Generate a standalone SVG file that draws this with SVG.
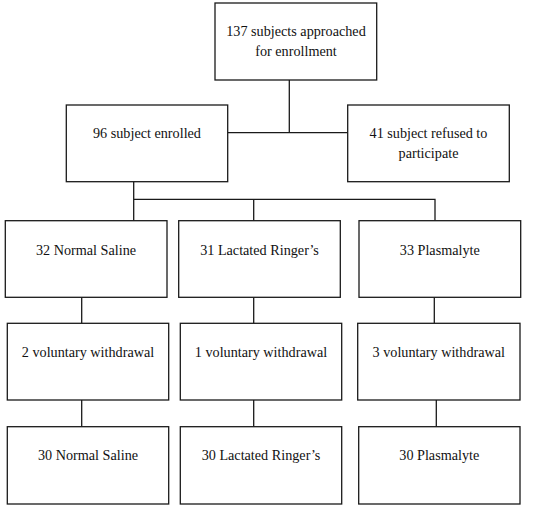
<svg xmlns="http://www.w3.org/2000/svg" width="541" height="509" viewBox="0 0 541 509">
<style>
.box{fill:#fff;stroke:#1a1a1a;stroke-width:1.3}
.ln{fill:none;stroke:#1a1a1a;stroke-width:1.3}
.t{font-family:'Liberation Serif', 'Times New Roman', serif;font-size:14.2px;fill:#111;text-anchor:middle}
</style>
<rect width="541" height="509" fill="#fff"/>
<g id="connectors">
<path class="ln" d="M289.3,80 V132.7 M227.7,132.7 H347.7"/>
<path class="ln" d="M133.7,181.7 V220.7 M133.7,199.3 H435 V220.7 M253.7,199.3 V220.7"/>
<path class="ln" d="M81.7,297.3 V323.3 M253.7,297.3 V323.3 M434.3,297.3 V323.3"/>
<path class="ln" d="M81.7,400 V426.7 M253.7,400 V426.7 M436.3,400 V426.7"/>
</g>
<g id="approached"><rect class="box" x="215" y="3" width="161.7" height="77"/><text class="t" x="296" y="36">137 subjects approached</text><text class="t" x="296" y="56">for enrollment</text></g>
<g id="enrolled"><rect class="box" x="66.3" y="105" width="161.4" height="76.7"/><text class="t" x="147" y="138">96 subject enrolled</text></g>
<g id="refused"><rect class="box" x="347.7" y="105" width="161.6" height="76.7"/><text class="t" x="428.5" y="138">41 subject refused to</text><text class="t" x="428.5" y="158">participate</text></g>
<g id="ns1"><rect class="box" x="5.3" y="220.7" width="161.7" height="76.6"/><text class="t" x="86" y="255">32 Normal Saline</text></g>
<g id="lr1"><rect class="box" x="178.7" y="220.7" width="161.6" height="76.6"/><text class="t" x="259.5" y="255">31 Lactated Ringer&#8217;s</text></g>
<g id="pl1"><rect class="box" x="359" y="220.7" width="161.7" height="76.6"/><text class="t" x="439.8" y="255">33 Plasmalyte</text></g>
<g id="ns2"><rect class="box" x="7.3" y="323.3" width="161.4" height="76.7"/><text class="t" x="88" y="357">2 voluntary withdrawal</text></g>
<g id="lr2"><rect class="box" x="180.3" y="323.3" width="161.4" height="76.7"/><text class="t" x="261" y="357">1 voluntary withdrawal</text></g>
<g id="pl2"><rect class="box" x="357.7" y="323.3" width="162.3" height="76.7"/><text class="t" x="438.8" y="357">3 voluntary withdrawal</text></g>
<g id="ns3"><rect class="box" x="7.3" y="426.7" width="161.4" height="77.3"/><text class="t" x="88" y="460">30 Normal Saline</text></g>
<g id="lr3"><rect class="box" x="180.3" y="426.7" width="161.4" height="77.3"/><text class="t" x="261" y="460">30 Lactated Ringer&#8217;s</text></g>
<g id="pl3"><rect class="box" x="358.7" y="426.7" width="161.3" height="77.3"/><text class="t" x="439.3" y="460">30 Plasmalyte</text></g>
</svg>
